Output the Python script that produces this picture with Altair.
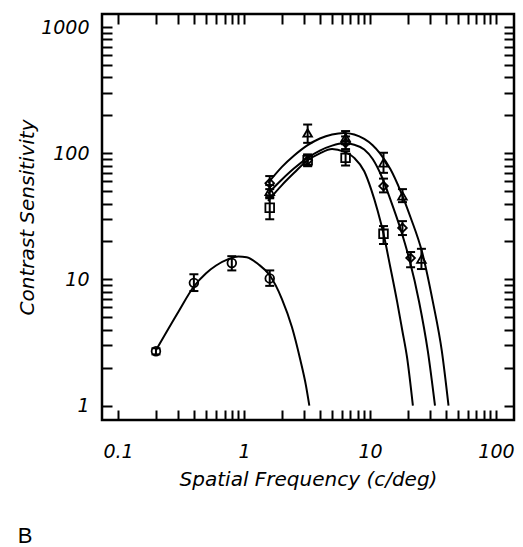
import altair as alt
import pandas as pd

# ---------------- data ----------------
# low spatial frequency condition (open circles)
lf_x = [0.2, 0.4, 0.8, 1.6]
lf_y = [2.7, 9.4, 13.5, 10.2]
lf_lo = [2.55, 8.1, 11.8, 8.9]
lf_hi = [2.85, 11.0, 15.3, 11.8]

# squares
sq_x = [1.6, 3.2, 6.4, 12.8]
sq_y = [37, 88, 92, 23]
sq_lo = [30, 79, 80, 19.1]
sq_hi = [45, 98, 104, 26.5]

# triangles
tri_x = [1.6, 3.2, 6.4, 12.8, 18.1, 25.6]
tri_y = [50, 145, 133, 84, 46, 14.5]
tri_lo = [44, 121, 118, 70, 41, 12.1]
tri_hi = [56, 169, 150, 101, 52, 17.5]

# diamonds
dia_x = [1.6, 3.2, 6.4, 12.8, 18.1, 21.0]
dia_y = [58, 88, 121, 55, 25.6, 14.8]
dia_lo = [52, 80, 108, 49, 22.5, 12.5]
dia_hi = [66, 97, 136, 63, 29, 16.5]

# fitted curves
c_lf_x = [0.2, 0.3, 0.4, 0.5, 0.6, 0.75, 0.9, 1.05, 1.3, 1.6, 2.0, 2.4, 2.8, 3.1, 3.3]
c_lf_y = [2.75, 5.5, 8.8, 11.2, 12.9, 14.5, 15.2, 15.0, 13.2, 10.8, 7.0, 4.2, 2.3, 1.45, 1.0]

c_tri_x = [1.55, 2.0, 2.5, 3.2, 4.0, 5.0, 6.2, 7.5, 9.0, 10.5, 12.0, 14.5, 17.5, 21.0, 25.9, 31.5, 37.2, 42.0]
c_tri_y = [58, 78, 96, 116, 131, 141, 145, 141, 130, 116, 100, 75, 50, 31, 16.5, 6.7, 2.69, 1.0]

c_dia_x = [1.55, 2.0, 2.5, 3.2, 4.0, 5.0, 6.2, 7.5, 9.0, 10.5, 12.5, 14.4, 17.5, 20.5, 24.5, 28.8, 32.8]
c_dia_y = [48, 62, 76, 92, 105, 115, 120, 117, 107, 90, 64, 44, 25, 14.5, 6.7, 2.69, 1.0]

c_sq_x = [1.55, 2.0, 2.5, 3.2, 4.0, 5.0, 6.2, 7.5, 9.0, 10.2, 11.5, 12.8, 14.5, 16.4, 18.0, 19.7, 21.9]
c_sq_y = [42, 56, 70, 88, 100, 108, 103, 92, 72, 52, 35, 23, 12.5, 6.7, 4.0, 2.4, 1.0]

# axis ticks
x_ticks = [round(m * 10 ** e, 6) for e in (-1, 0, 1) for m in range(1, 10)] + [100]
y_ticks = [round(m * 10 ** e, 6) for e in (0, 1, 2) for m in range(1, 10)] + [1000]
x_labels = [0.1, 1, 10, 100]
y_labels = [1, 10, 100, 1000]

x_title = "Spatial Frequency (c/deg)"
y_title = "Contrast Sensitivity"
panel_label = "B"

# ---------------- tables ----------------
series = [
    ("circle", lf_x, lf_y, lf_lo, lf_hi),
    ("square", sq_x, sq_y, sq_lo, sq_hi),
    ("triangle-up", tri_x, tri_y, tri_lo, tri_hi),
    ("diamond", dia_x, dia_y, dia_lo, dia_hi),
]
pts = []
caps = []
for name, xs, ys, los, his in series:
    for x, y, lo, hi in zip(xs, ys, los, his):
        pts.append({"series": name, "x": x, "y": y, "lo": lo, "hi": hi})
        caps.append({"series": name, "x": x, "v": lo})
        caps.append({"series": name, "x": x, "v": hi})
pts_df = pd.DataFrame(pts)
caps_df = pd.DataFrame(caps)

curves = []
for name, xs, ys in [("lf", c_lf_x, c_lf_y), ("tri", c_tri_x, c_tri_y),
                     ("dia", c_dia_x, c_dia_y), ("sq", c_sq_x, c_sq_y)]:
    for x, y in zip(xs, ys):
        curves.append({"curve": name, "x": x, "y": y})
curve_df = pd.DataFrame(curves)

# ---------------- scales / axes ----------------
xs_scale = alt.Scale(type="log", domain=[0.0746, 139], nice=False)
ys_scale = alt.Scale(type="log", domain=[0.77, 1270], nice=False)

FONT = "DejaVu Sans"
lab_expr_x = "indexof(%s, datum.value) >= 0 ? format(datum.value, '~g') : ''" % str(x_labels)
lab_expr_y = "indexof(%s, datum.value) >= 0 ? format(datum.value, '~g') : ''" % str(y_labels)

common = dict(tickSize=10, tickWidth=2, tickColor="black", offset=-10, domain=False,
              grid=False, labelOverlap=False, labelFlush=False)

ax_bottom = alt.Axis(orient="bottom", values=x_ticks, labelExpr=lab_expr_x,
                     labelFont=FONT, labelFontStyle="italic", labelFontSize=19,
                     labelColor="black", labelPadding=22,
                     title=x_title, titleFont=FONT, titleFontStyle="italic",
                     titleFontWeight="normal", titleFontSize=20, titleColor="black",
                     titlePadding=8, **common)
ax_left = alt.Axis(orient="left", values=y_ticks, labelExpr=lab_expr_y,
                   labelFont=FONT, labelFontStyle="italic", labelFontSize=19,
                   labelColor="black", labelPadding=13,
                   title=y_title, titleFont=FONT, titleFontStyle="italic",
                   titleFontWeight="normal", titleFontSize=20, titleColor="black",
                   titlePadding=3, **common)
ax_top = alt.Axis(orient="top", values=x_ticks, labels=False, title=None, **common)
ax_right = alt.Axis(orient="right", values=y_ticks, labels=False, title=None, **common)

# ---------------- layers ----------------
rules = alt.Chart(pts_df).mark_rule(color="black", strokeWidth=2).encode(
    x=alt.X("x:Q", scale=xs_scale, axis=None),
    y=alt.Y("lo:Q", scale=ys_scale, axis=None),
    y2="hi:Q",
)
cap_marks = alt.Chart(caps_df).mark_tick(orient="horizontal", color="black",
                                         size=9, thickness=2, opacity=1).encode(
    x=alt.X("x:Q", scale=xs_scale, axis=None),
    y=alt.Y("v:Q", scale=ys_scale, axis=None),
)
lines = alt.Chart(curve_df).mark_line(color="black", strokeWidth=2,
                                      interpolate="monotone").encode(
    x=alt.X("x:Q", scale=xs_scale, axis=ax_top),
    y=alt.Y("y:Q", scale=ys_scale, axis=ax_right),
    detail="curve:N",
)
points = alt.Chart(pts_df).mark_point(filled=False, color="black", strokeWidth=1.8,
                                      size=75, opacity=1).encode(
    x=alt.X("x:Q", scale=xs_scale, axis=ax_bottom),
    y=alt.Y("y:Q", scale=ys_scale, axis=ax_left),
    shape=alt.Shape("series:N",
                    scale=alt.Scale(domain=["circle", "square", "triangle-up", "diamond"],
                                    range=["circle", "square", "triangle-up", "diamond"]),
                    legend=None),
)

chart = (
    alt.layer(rules, cap_marks, lines, points)
    .resolve_axis(x="independent", y="independent")
    .properties(
        width=412, height=406,
        padding={"left": 102, "top": 14, "right": 9, "bottom": 127},
        autosize=alt.AutoSizeParams(type="none"),
        background="white",
        title=alt.TitleParams(panel_label, orient="bottom", anchor="start",
                              frame="bounds", font="Liberation Sans", fontSize=22,
                              fontWeight="normal", color="black", offset=37),
    )
    .configure_view(stroke="black", strokeWidth=2.5)
)

chart.save("out.html", embed_options={"renderer": "svg", "actions": False})
